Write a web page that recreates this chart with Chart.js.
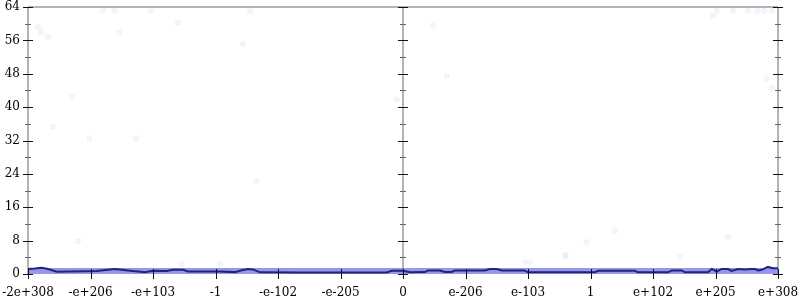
<!DOCTYPE html>
<html>
<head>
<meta charset="utf-8">
<script src="https://cdn.jsdelivr.net/npm/chart.js@4.4.1/dist/chart.umd.min.js"></script>
<style>
  html, body { margin: 0; padding: 0; background: #fff; }
  #wrap { width: 800px; height: 300px; }
</style>
</head>
<body>
<div id="wrap"><canvas id="chart"></canvas></div>
<script>
// ordinal float axis, one tick per label
const xLabels = ['-2e+308', '-e+206', '-e+103', '-1', '-e-102', '-e-205', '0',
                 'e-206', 'e-103', '1', 'e+102', 'e+205', 'e+308'];
const yTicks = [0, 8, 16, 24, 32, 40, 48, 56, 64];
const yMinor = [4, 12, 20, 28, 36, 44, 52, 60];

// dark line (x in tick units, y value)
const lineX = [0, 0.11, 0.22, 0.32, 0.46, 0.67, 0.91, 1.1, 1.28, 1.39, 1.5, 1.63, 1.76, 1.87,
  2.0, 2.22, 2.32, 2.48, 2.56, 3.07, 3.31, 3.42, 3.52, 3.6, 3.71, 4.35, 5.15, 5.74, 5.82, 6.0,
  6.11, 6.35, 6.4, 6.59, 6.67, 6.78, 6.83, 7.31, 7.39, 7.5, 7.58, 7.84, 7.94, 8.0, 8.51, 9.07,
  9.12, 9.71, 9.76, 10.24, 10.3, 10.46, 10.51, 10.88, 10.94, 11.02, 11.1, 11.2, 11.26, 11.36,
  11.47, 11.58, 11.63, 11.68, 11.74, 11.84, 11.92, 12];
const lineY = [1.2, 1.3, 1.5, 1.2, 0.55, 0.6, 0.65, 0.7, 1.0, 1.2, 1.0, 0.8, 0.6, 0.4,
  0.8, 0.7, 1.0, 1.0, 0.6, 0.6, 0.45, 0.9, 1.2, 1.1, 0.4, 0.35, 0.35, 0.35, 0.75, 0.75,
  0.4, 0.45, 0.85, 0.85, 0.5, 0.5, 0.85, 0.85, 1.2, 1.2, 0.85, 0.85, 0.85, 0.4, 0.4, 0.4,
  0.75, 0.75, 0.4, 0.4, 0.85, 0.85, 0.4, 0.4, 1.2, 0.55, 1.2, 1.2, 0.75, 1.2,
  1.1, 1.2, 1.2, 0.85, 1.0, 1.7, 1.4, 1.4];

// filled band
const bandX = [0, 12];
const bandTop = [1.45, 1.45];
const bandBottom = -0.4;

// faint sample points
const dotX = [0.16, 0.21, 0.32, 1.2, 1.38, 1.46, 1.97, 2.4, 0.7, 0.4, 0.98, 1.73, 0.8, 3.55,
  3.44, 5.9, 3.66, 6.48, 6.7, 10.96, 11.02, 11.28, 11.52, 11.68, 11.78, 11.9, 11.82, 11.9,
  8.94, 8.6, 10.43, 9.39, 11.2, 7.95, 8.03, 8.6, 2.46, 3.07];
const dotY = [59.2, 58.0, 56.8, 63.1, 63.1, 57.9, 63.1, 60.3, 42.5, 35.3, 32.4, 32.4, 7.9, 63.1,
  55.2, 41.8, 22.3, 59.5, 47.5, 61.9, 63.1, 63.1, 63.1, 63.1, 63.1, 63.1, 46.8, 44.6,
  7.7, 4.6, 4.1, 10.3, 8.9, 2.9, 2.9, 4.3, 2.4, 2.4];

const font = { family: '"DejaVu Serif", serif', size: 12 };

const axisLines = {
  id: 'axisLines',
  beforeDatasetsDraw(chart) {
    const { ctx, chartArea: a, scales: { x, y } } = chart;
    ctx.save();
    ctx.strokeStyle = '#b4b4b4';
    ctx.lineWidth = 2;
    ctx.beginPath();
    const top = y.getPixelForValue(64);
    ctx.moveTo(a.left, top);
    ctx.lineTo(a.right, top);
    [0, 6, 12].forEach(v => {
      const px = x.getPixelForValue(v);
      ctx.moveTo(px, top);
      ctx.lineTo(px, y.getPixelForValue(0));
    });
    ctx.stroke();
    ctx.restore();
  },
  afterDatasetsDraw(chart) {
    const { ctx, scales: { x, y } } = chart;
    ctx.save();
    ctx.lineWidth = 1;
    [0, 6, 12].forEach(v => {
      const px = Math.round(x.getPixelForValue(v));
      ctx.strokeStyle = '#111';
      yTicks.forEach(t => {
        const py = Math.round(y.getPixelForValue(t)) + 0.5;
        ctx.beginPath(); ctx.moveTo(px - 5, py); ctx.lineTo(px + 5, py); ctx.stroke();
      });
      ctx.strokeStyle = '#666';
      yMinor.forEach(t => {
        const py = Math.round(y.getPixelForValue(t)) + 0.5;
        ctx.beginPath(); ctx.moveTo(px - 3, py); ctx.lineTo(px + 3, py); ctx.stroke();
      });
    });
    ctx.strokeStyle = '#111';
    const py0 = y.getPixelForValue(0);
    xLabels.forEach((l, i) => {
      const px = Math.round(x.getPixelForValue(i)) + 0.5;
      ctx.beginPath(); ctx.moveTo(px, py0 - 5); ctx.lineTo(px, py0 + 5); ctx.stroke();
    });
    ctx.restore();
  }
};

new Chart(document.getElementById('chart'), {
  type: 'scatter',
  data: {
    datasets: [
      {
        type: 'line',
        data: bandX.map((v, i) => ({ x: v, y: bandTop[i] })),
        borderWidth: 0,
        pointRadius: 0,
        backgroundColor: 'rgba(100, 100, 235, 0.68)',
        fill: { value: bandBottom },
        clip: false,
        order: 3
      },
      {
        type: 'line',
        data: lineX.map((v, i) => ({ x: v, y: lineY[i] })),
        borderColor: '#23237e',
        borderWidth: 2,
        pointRadius: 0,
        fill: false,
        tension: 0,
        order: 1
      },
      {
        data: dotX.map((v, i) => ({ x: v, y: dotY[i] })),
        pointRadius: 2.5,
        pointBackgroundColor: 'rgba(215, 215, 255, 0.22)',
        pointBorderColor: 'rgba(200, 200, 250, 0.22)',
        pointBorderWidth: 1,
        order: 2
      }
    ]
  },
  options: {
    responsive: true,
    maintainAspectRatio: false,
    animation: false,
    layout: { padding: { left: 0, right: 22, top: 7, bottom: 0 } },
    plugins: { legend: { display: false }, tooltip: { enabled: false } },
    scales: {
      x: {
        type: 'linear',
        min: 0,
        max: 12,
        afterFit: s => { s.height = 26; s.paddingLeft = 0; s.paddingRight = 0; },
        afterBuildTicks: s => { s.ticks = xLabels.map((l, i) => ({ value: i })); },
        grid: { display: false, drawTicks: false },
        border: { display: false },
        ticks: {
          callback: (v, i) => xLabels[i],
          font: font,
          color: '#000',
          padding: 12,
          autoSkip: false,
          maxRotation: 0
        }
      },
      y: {
        min: 0,
        max: 64,
        afterFit: s => { s.width = 28; s.paddingTop = 0; s.paddingBottom = 0; },
        afterBuildTicks: s => { s.ticks = yTicks.map(v => ({ value: v })); },
        grid: { display: false, drawTicks: false },
        border: { display: false },
        ticks: { font: font, color: '#000', padding: 8 }
      }
    }
  },
  plugins: [axisLines]
});
</script>
</body>
</html>
